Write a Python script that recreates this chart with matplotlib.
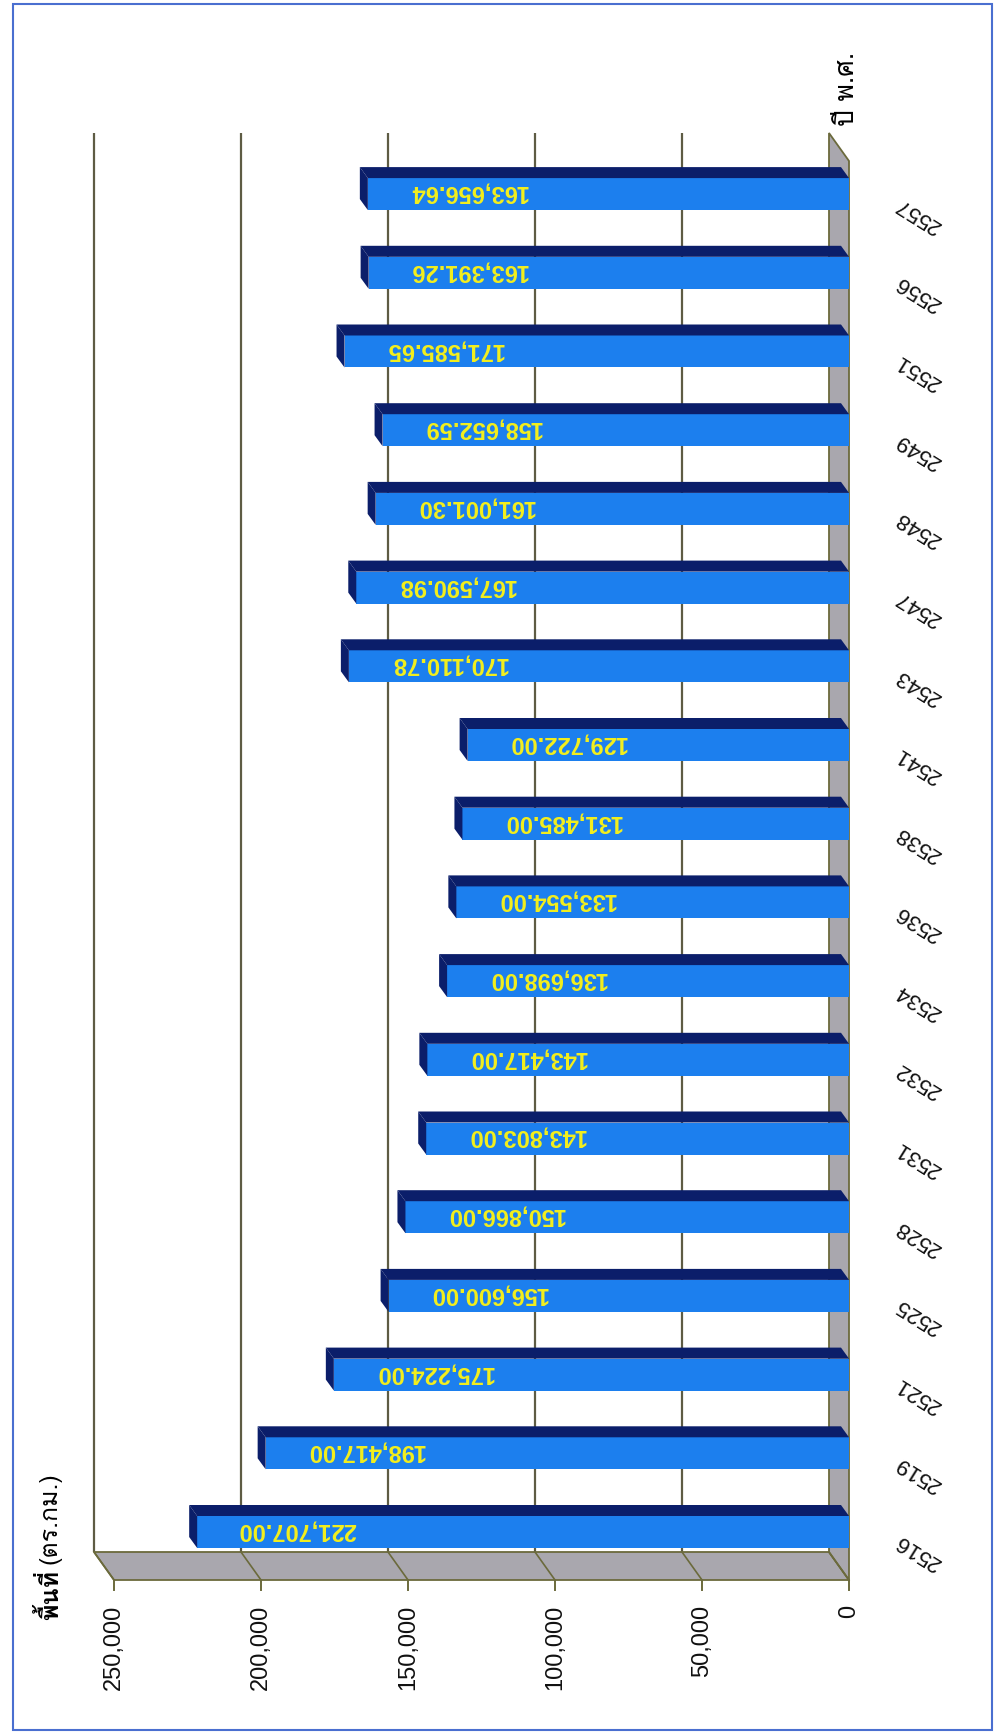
import matplotlib
matplotlib.use("Agg")
import matplotlib.pyplot as plt
from matplotlib.patches import Polygon, Rectangle
from matplotlib import font_manager

# ---------------- data ----------------
years = ["2516", "2519", "2521", "2525", "2528", "2531", "2532", "2534", "2536",
         "2538", "2541", "2543", "2547", "2548", "2549", "2551", "2556", "2557"]
values = [221707.00, 198417.00, 175224.00, 156600.00, 150866.00, 143803.00,
          143417.00, 136698.00, 133554.00, 131485.00, 129722.00, 170110.78,
          167590.98, 161001.30, 158652.59, 171585.65, 163391.26, 163656.64]
value_labels = ["221,707.00", "198,417.00", "175,224.00", "156,600.00", "150,866.00",
                "143,803.00", "143,417.00", "136,698.00", "133,554.00", "131,485.00",
                "129,722.00", "170,110.78", "167,590.98", "161,001.30", "158,652.59",
                "171,585.65", "163,391.26", "163,656.64"]
ticks = [0, 50000, 100000, 150000, 200000, 250000]
tick_labels = ["0", "50,000", "100,000", "150,000", "200,000", "250,000"]
y_title_a = "พื้นที่"
y_title_b = "(ตร.กม.)"
x_title = "ปี พ.ศ."

# ---------------- fonts ----------------
def find_thai_font():
    try:
        from fontTools.ttLib import TTFont
    except Exception:
        return None
    for fe in font_manager.fontManager.ttflist:
        try:
            f = TTFont(fe.fname, fontNumber=0, lazy=True)
            cmap = f.getBestCmap()
            if cmap and 0x0E1E in cmap and 0x0E35 in cmap and 0x0E01 in cmap:
                return fe.name
        except Exception:
            continue
    return None

thai = find_thai_font()
thai_family = [thai, "DejaVu Sans"] if thai else ["DejaVu Sans"]
num_family = ["Liberation Sans", "DejaVu Sans"]

# ---------------- figure ----------------
W, H = 995, 1734
fig = plt.figure(figsize=(W / 100, H / 100), dpi=100)
fig.patch.set_facecolor("white")

# pixel layout of the (rotated) chart
x0_px, x250_px = 849, 114            # value 0 and 250,000 on the front plane
top_px, bot_px = 100, 1600           # axes extent
pitch = 78.7                         # px per category
c0_px = 1532                         # centre of first category (px from top)
ax = fig.add_axes([x250_px / W, 1 - bot_px / H, (x0_px - x250_px) / W, (bot_px - top_px) / H])
ax.set_xlim(250000, 0)
ax.set_ylim((c0_px - bot_px) / pitch, (c0_px - top_px) / pitch)
ax.axis("off")

pxv = 250000 / (x0_px - x250_px)     # value units per px
pyc = 1 / pitch                      # category units per px

ylo = (c0_px - 1580) / pitch          # front edge of side wall
yhi = (c0_px - 161) / pitch           # top of front plane
dX, dY = 20 * pxv, 28 * pyc           # depth offset of walls
bX, bY = 8 * pxv, 11 * pyc            # depth of bars
bh = 32 * pyc                         # bar face height

wall = "#a9a7ae"
edge = "#6b6a3c"
grid = "#5e5c44"
blue = "#1c7fee"
navy = "#0b1e6a"

# side wall (bottom strip)
ax.add_patch(Polygon([(0, ylo), (250000, ylo), (250000 + dX, ylo + dY), (dX, ylo + dY)],
                     closed=True, fc=wall, ec=edge, lw=1.3, zorder=1, clip_on=False))
# floor (right strip)
ax.add_patch(Polygon([(0, ylo), (0, yhi), (dX, yhi + dY), (dX, ylo + dY)],
                     closed=True, fc=wall, ec=edge, lw=1.3, zorder=1, clip_on=False))

# back wall gridlines, side-wall gridlines, tick marks, tick labels
for t, lab in zip(ticks, tick_labels):
    if t > 0:
        ax.plot([t + dX, t + dX], [ylo + dY, yhi + dY], color=grid, lw=1.6, zorder=0.5,
                clip_on=False, solid_capstyle="butt")
    ax.plot([t, t + dX], [ylo, ylo + dY], color=edge, lw=1.2, zorder=1.5, clip_on=False)
    ax.plot([t, t], [ylo, ylo - 10 * pyc], color=edge, lw=1.4, zorder=1.5, clip_on=False)
    ax.text(t, (c0_px - 1605) / pitch, lab, rotation=90, rotation_mode="anchor",
            ha="right", va="center", fontsize=17, family=num_family, color="#111111")

# bars
for i, (v, lab, yr) in enumerate(zip(values, value_labels, years)):
    ax.barh(i, v, height=bh, left=0, color=blue, edgecolor="none", zorder=3)
    top = i + bh / 2
    bottom = i - bh / 2
    ax.add_patch(Polygon([(0, top), (v, top), (v + bX, top + bY), (bX, top + bY)],
                         closed=True, fc=navy, ec="none", zorder=3))
    ax.add_patch(Polygon([(v, bottom), (v, top), (v + bX, top + bY), (v + bX, bottom + bY)],
                         closed=True, fc=navy, ec="none", zorder=3))
    ax.text(v - 100 * pxv, i + 2 * pyc, lab, rotation=180, ha="center", va="center",
            fontsize=17, fontweight="bold", family=num_family, color="#f4ef1c", zorder=4)
    ax.text(-69 * pxv, i - 20 * pyc, yr, rotation=148, ha="center", va="center",
            fontsize=16, family=num_family, color="#111111", clip_on=False)

# axis titles
fig.text(50 / W, 1 - 1620 / H, y_title_a, rotation=90, rotation_mode="anchor",
         ha="left", va="center", fontsize=18, fontweight="bold", family=thai_family)
fig.text(50 / W, 1 - 1472 / H, y_title_b, rotation=90, rotation_mode="anchor",
         ha="right", va="center", fontsize=18, family=thai_family)
fig.text(847 / W, 1 - 89 / H, x_title, rotation=90, ha="center", va="center",
         fontsize=19, family=thai_family)

# outer frame
fig.add_artist(Rectangle((13 / W, 1 - 1730 / H), (992 - 13) / W, (1730 - 4) / H,
                         transform=fig.transFigure, fill=False, ec="#4a6fd0", lw=1.5))

fig.savefig("out.png", dpi=100, facecolor="white")
